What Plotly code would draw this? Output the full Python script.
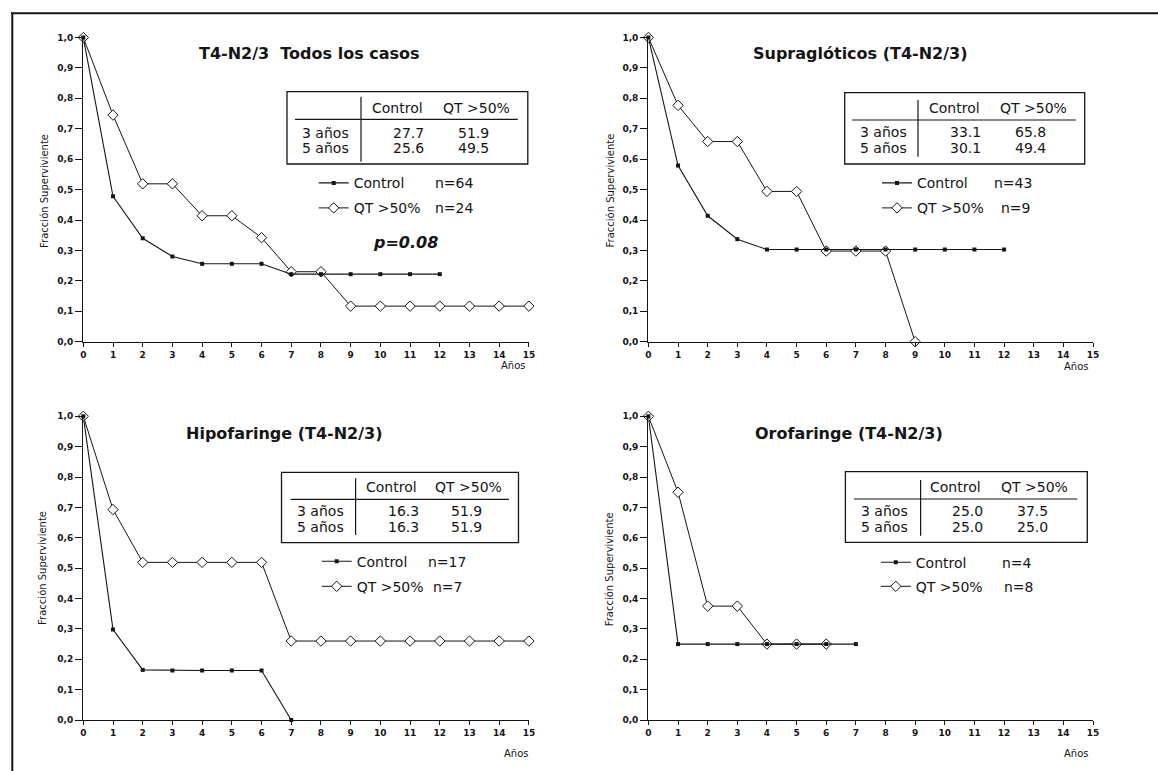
import plotly.graph_objects as go

W, H = 1158, 771

# ---------------- data ----------------
titles = ["T4-N2/3  Todos los casos", "Supraglóticos (T4-N2/3)",
          "Hipofaringe (T4-N2/3)", "Orofaringe (T4-N2/3)"]

control_years_1 = list(range(0, 13))
control_surv_1 = [1.0, 0.478, 0.340, 0.280, 0.256, 0.256, 0.256, 0.222, 0.222, 0.222, 0.222, 0.222, 0.222]
qt_years_1 = list(range(0, 16))
qt_surv_1 = [1.0, 0.745, 0.519, 0.519, 0.414, 0.414, 0.342, 0.230, 0.230, 0.117,
             0.117, 0.117, 0.117, 0.117, 0.117, 0.117]

control_years_2 = list(range(0, 13))
control_surv_2 = [1.0, 0.579, 0.414, 0.337, 0.303, 0.303, 0.303, 0.303, 0.303, 0.303, 0.303, 0.303, 0.303]
qt_years_2 = list(range(0, 10))
qt_surv_2 = [1.0, 0.777, 0.658, 0.658, 0.494, 0.494, 0.298, 0.298, 0.298, 0.0]

control_years_3 = list(range(0, 8))
control_surv_3 = [1.0, 0.298, 0.165, 0.163, 0.163, 0.163, 0.163, 0.0]
qt_years_3 = list(range(0, 16))
qt_surv_3 = [1.0, 0.693, 0.519, 0.519, 0.519, 0.519, 0.519, 0.260, 0.260, 0.260,
             0.260, 0.260, 0.260, 0.260, 0.260, 0.260]

control_years_4 = list(range(0, 8))
control_surv_4 = [1.0, 0.25, 0.25, 0.25, 0.25, 0.25, 0.25, 0.25]
qt_years_4 = list(range(0, 7))
qt_surv_4 = [1.0, 0.75, 0.375, 0.375, 0.25, 0.25, 0.25]

n_control = [64, 43, 17, 4]
n_qt = [24, 9, 7, 8]

table_cols = ["Control", "QT >50%"]
table_rows = ["3 años", "5 años"]
table_control = [["27.7", "25.6"], ["33.1", "30.1"], ["16.3", "16.3"], ["25.0", "25.0"]]
table_qt = [["51.9", "49.5"], ["65.8", "49.4"], ["51.9", "51.9"], ["37.5", "25.0"]]

x_ticks = list(range(0, 16))
x_ticktext = [str(v) for v in x_ticks]
y_ticks = [i / 10 for i in range(0, 11)]
y_ticktext = ["0,0", "0,1", "0,2", "0,3", "0,4", "0,5", "0,6", "0,7", "0,8", "0,9", "1,0"]

y_title = "Fracción Superviviente"
x_title = "Años"
p_value = "p=0.08"

# ---------------- layout geometry (pixels) ----------------
panels = [
    dict(x0=83.3, x1=528.9, yt=37.5, yb=341.7),
    dict(x0=648.4, x1=1093.0, yt=37.5, yb=341.7),
    dict(x0=83.3, x1=528.9, yt=416.3, yb=720.0),
    dict(x0=648.4, x1=1093.0, yt=416.3, yb=720.0),
]
tables = [
    dict(box=(287, 91.7, 527.8, 164), hl=(295, 517.8, 119.3), vl=(361, 96.7, 161.7), hy=108.3,
         hc=(397.4, 476), vc=(408.7, 473), ry=(132.7, 147.7), rr=351),
    dict(box=(844.7, 92.7, 1084.7, 164), hl=(852, 1076, 120), vl=(918, 100, 156.7), hy=108.3,
         hc=(954.3, 1033.3), vc=(965, 1030), ry=(132.3, 147.7), rr=908.7),
    dict(box=(281.5, 472.3, 518.5, 542.7), hl=(290.7, 509, 499.3), vl=(355.6, 478.3, 535), hy=486.7,
         hc=(391, 468.5), vc=(403.5, 466.3), ry=(511, 526.7), rr=346.3),
    dict(box=(845.4, 471.7, 1087.3, 542.3), hl=(854, 1077.3, 499), vl=(920.6, 480, 535.7), hy=487.3,
         hc=(955.4, 1034.4), vc=(967.2, 1032.6), ry=(510.7, 526.7), rr=910),
]
legends_geo = [
    dict(tx=353.7, nx=(432.6, 432.6), cy=183.3, qy=208.3),
    dict(tx=917.0, nx=(992.0, 999.0), cy=183.3, qy=208.3),
    dict(tx=356.7, nx=(426.0, 431.5), cy=561.7, qy=586.7),
    dict(tx=915.8, nx=(1000.0, 1002.0), cy=562.7, qy=586.7),
]
title_pos = [(309.6, 53.3), (860.4, 53.3), (284.3, 433.3), (848.5, 433.3)]
ytitle_pos = [(44.4, 190.5), (609.5, 190.0), (42.6, 568.3), (609.5, 568.8)]
xtitle_pos = [(513, 365.7), (1076, 366.7), (516.7, 753.3), (1076, 753.3)]
p_pos = (405.6, 242.3)


def X(px):
    return px / W


def Y(py):
    return 1 - py / H


FONT = "DejaVu Sans"
INK = "#151515"

data_sets = [
    (control_years_1, control_surv_1, qt_years_1, qt_surv_1),
    (control_years_2, control_surv_2, qt_years_2, qt_surv_2),
    (control_years_3, control_surv_3, qt_years_3, qt_surv_3),
    (control_years_4, control_surv_4, qt_years_4, qt_surv_4),
]


def note(px, py, text, size=14, xanchor="center", angle=0):
    return dict(x=X(px), y=Y(py), xref="paper", yref="paper", text=text, showarrow=False,
                xanchor=xanchor, yanchor="middle", textangle=angle,
                font=dict(size=size, family=FONT, color=INK))


fig = go.Figure()
layout = dict(
    width=W, height=H, margin=dict(l=0, r=0, t=0, b=0, pad=0, autoexpand=False),
    paper_bgcolor="white", plot_bgcolor="white",
    font=dict(family=FONT, color=INK),
)
annotations = []
shapes = []

leg_idx = 1
for i, (cx, cy, qx, qy) in enumerate(data_sets):
    k = "" if i == 0 else str(i + 1)
    xa, ya = "x" + k, "y" + k
    p = panels[i]
    lg = legends_geo[i]
    leg_c = "legend" if leg_idx == 1 else "legend" + str(leg_idx)
    leg_q = "legend" + str(leg_idx + 1)
    # QT first, control on top
    fig.add_trace(go.Scatter(
        x=qx, y=qy, xaxis=xa, yaxis=ya, mode="lines+markers", name="QT >50%",
        line=dict(color=INK, width=1),
        marker=dict(symbol="diamond", size=8, color="white", line=dict(color=INK, width=1)),
        cliponaxis=False, legend=leg_q, showlegend=True))
    fig.add_trace(go.Scatter(
        x=cx, y=cy, xaxis=xa, yaxis=ya, mode="lines+markers", name="Control",
        line=dict(color=INK, width=1.1),
        marker=dict(symbol="square", size=4, color=INK),
        cliponaxis=False, legend=leg_c, showlegend=True))
    for lname, yy in ((leg_c, lg["cy"]), (leg_q, lg["qy"])):
        layout[lname] = dict(
            x=X(lg["tx"] - 40), y=Y(yy), xanchor="left", yanchor="middle",
            bgcolor="rgba(0,0,0,0)", borderwidth=0,
            font=dict(family=FONT, size=14, color=INK), tracegroupgap=0)
    leg_idx += 2

    layout["xaxis" + k] = dict(
        domain=[X(p["x0"]), X(p["x1"])], anchor=ya, range=[0, 15],
        tickmode="array", tickvals=x_ticks, ticktext=x_ticktext,
        ticks="outside", ticklen=4, tickwidth=1, tickcolor=INK,
        showline=True, linecolor=INK, linewidth=1.2, showgrid=False, zeroline=False,
        tickfont=dict(family=FONT, size=9, color=INK, weight="bold"), fixedrange=True)
    layout["yaxis" + k] = dict(
        domain=[Y(p["yb"]), Y(p["yt"])], anchor=xa, range=[0, 1],
        tickmode="array", tickvals=y_ticks, ticktext=y_ticktext,
        ticks="outside", ticklen=7, tickwidth=1, tickcolor=INK,
        showline=True, linecolor=INK, linewidth=1.2, showgrid=False, zeroline=False,
        tickfont=dict(family=FONT, size=9, color=INK, weight="bold"), fixedrange=True)

    tx, ty = title_pos[i]
    annotations.append(note(tx, ty, "<b>%s</b>" % titles[i], size=16))
    yx, yy = ytitle_pos[i]
    annotations.append(note(yx, yy, y_title, size=10, angle=-90))
    ax_, ay_ = xtitle_pos[i]
    annotations.append(note(ax_, ay_, x_title, size=10))
    annotations.append(note(lg["nx"][0], lg["cy"], "n=%d" % n_control[i], xanchor="left"))
    annotations.append(note(lg["nx"][1], lg["qy"], "n=%d" % n_qt[i], xanchor="left"))

    t = tables[i]
    bx0, by0, bx1, by1 = t["box"]
    shapes.append(dict(type="rect", xref="paper", yref="paper", x0=X(bx0), x1=X(bx1), y0=Y(by1), y1=Y(by0),
                       line=dict(color=INK, width=1.3)))
    hx0, hx1, hy = t["hl"]
    shapes.append(dict(type="line", xref="paper", yref="paper", x0=X(hx0), x1=X(hx1), y0=Y(hy), y1=Y(hy),
                       line=dict(color=INK, width=1.2)))
    vx, vy0, vy1 = t["vl"]
    shapes.append(dict(type="line", xref="paper", yref="paper", x0=X(vx), x1=X(vx), y0=Y(vy0), y1=Y(vy1),
                       line=dict(color=INK, width=1.2)))
    for j, col in enumerate(table_cols):
        annotations.append(note(t["hc"][j], t["hy"], col))
    for r, row in enumerate(table_rows):
        annotations.append(note(t["rr"], t["ry"][r], row, xanchor="right"))
        annotations.append(note(t["vc"][0], t["ry"][r], table_control[i][r]))
        annotations.append(note(t["vc"][1], t["ry"][r], table_qt[i][r]))

annotations.append(note(p_pos[0], p_pos[1], "<b><i>%s</i></b>" % p_value, size=16))

# page border lines of the scanned figure
shapes.append(dict(type="line", xref="paper", yref="paper", x0=X(11), x1=1, y0=Y(13.3), y1=Y(13.3),
                   line=dict(color=INK, width=2)))
shapes.append(dict(type="line", xref="paper", yref="paper", x0=X(12.3), x1=X(12.3), y0=0, y1=Y(12.5),
                   line=dict(color=INK, width=2)))

layout["annotations"] = annotations
layout["shapes"] = shapes
fig.update_layout(**layout)
fig.write_html("out.html",
               config={"displayModeBar": False, "staticPlot": True},
               post_script="document.body.style.margin='0';document.body.style.overflow='hidden';")
